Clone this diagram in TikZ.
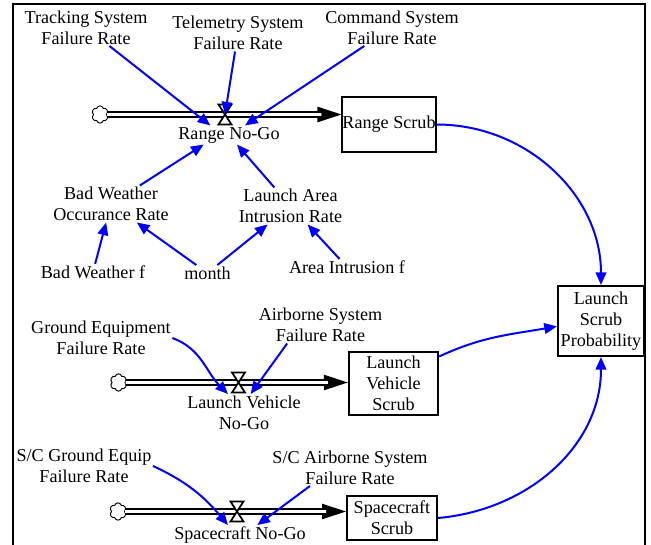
\documentclass[tikz,border=0pt]{standalone}
\usepackage{fontspec}
\setmainfont{Liberation Serif}
\usetikzlibrary{arrows.meta,shapes.symbols}

\begin{document}
\begin{tikzpicture}[x=0.75pt,y=0.75pt,
  every node/.style={font=\fontsize{13.6}{15.75}\selectfont,align=center},
  lbl/.style={inner sep=1pt},
  stock/.style={draw,line width=1.5pt,inner sep=0pt},
  cloudy/.style={cloud,cloud puffs=6,aspect=1,draw,fill=white,line width=0.7pt,minimum width=12.5pt,minimum height=13pt,inner sep=0pt},
  link/.style={blue,line width=1.5pt,-{Triangle[length=9.5pt,width=8pt]}},
  pipe/.style={double,line width=1.5pt,double distance=2.2pt,shorten >=15pt},
  pipetip/.style={line width=1pt,-{Triangle[length=18pt,width=11.5pt]}},
  valve/.style={line width=1.3pt,fill=white,line join=miter}]
\useasboundingbox (0,0) rectangle (651,544);
\draw[line width=1.5pt] (13.3,-10) -- (13.3,539.7) -- (645,539.7) -- (645,-10);

\node[cloudy] (c1) at (100,429.5) {};
\coordinate (v1) at (225,429.5);
\node[lbl] (rng) at (229,409) {Range No-Go};
\node[stock,minimum width=66pt,minimum height=41pt] (rs) at (389,419.5) {Range Scrub};
\node[lbl] (trk) at (86,516.5) {Tracking System\\Failure Rate};
\node[lbl] (tel) at (238,511) {Telemetry System\\Failure Rate};
\node[lbl] (cmd) at (392,516.5) {Command System\\Failure Rate};
\node[lbl] (bwo) at (111,340) {Bad Weather\\Occurance Rate};
\node[lbl] (lai) at (290.5,338) {Launch Area\\Intrusion Rate};
\node[lbl] (bwf) at (93,272) {Bad Weather f};
\node[lbl] (mon) at (207.5,271) {month};
\node[lbl] (aif) at (347,277) {Area Intrusion f};

\node[cloudy] (c2) at (118.5,161.5) {};
\coordinate (v2) at (238.5,161.5);
\node[lbl] (lvn) at (244,131.5) {Launch Vehicle\\No-Go};
\node[stock,minimum width=67pt,minimum height=47pt] (lvs) at (393.5,160.5) {Launch\\Vehicle\\Scrub};
\node[lbl] (gef) at (101,206) {Ground Equipment\\Failure Rate};
\node[lbl] (asf) at (320.5,219) {Airborne System\\Failure Rate};

\node[cloudy] (c3) at (118,32.5) {};
\coordinate (v3) at (237,32.5);
\node[lbl] (scn) at (240,9) {Spacecraft No-Go};
\node[stock,minimum width=67.5pt,minimum height=33pt] (scs) at (392,26) {Spacecraft\\Scrub};
\node[lbl] (sgf) at (84,78) {S/C Ground Equip\\Failure Rate};
\node[lbl] (saf) at (350,76.5) {S/C Airborne System\\Failure Rate};

\node[stock,minimum width=64.5pt,minimum height=52.5pt] (lsp) at (601,223) {Launch\\Scrub\\Probability};

\foreach \c/\s in {c1/rs,c2/lvs,c3/scs}{
  \draw[pipetip] (\c) -- (\s.west |- \c);
  \draw[pipe] (\c) -- (\s.west |- \c);
}
\foreach \v in {v1,v2,v3}
  \draw[valve] ([shift={(-6.5,10)}]\v) -- ++(13,0) -- ++(-13,-20) -- ++(13,0) -- cycle;

\draw[link] (trk) -- ([xshift=-14pt]rng.north);
\draw[link] (tel) -- (v1);
\draw[link] (cmd) -- ([xshift=12pt]rng.north);
\draw[link] (bwo) -- ([xshift=-19pt]rng.south);
\draw[link] (lai) -- ([xshift=6pt]rng.south);
\draw[link] (bwf) -- (bwo);
\draw[link] (mon) -- (bwo);
\draw[link] (mon) -- (lai);
\draw[link] (aif) -- (lai);
\draw[link] (gef.east) to[out=-20,in=135] ([xshift=-12pt]lvn.north);
\draw[link] ([xshift=-25pt]asf.south) -- ([xshift=5pt]lvn.north);
\draw[link] (sgf.east) to[out=-25,in=130] ([xshift=-9pt]scn.north);
\draw[link] ([xshift=-30pt]saf.south) -- ([xshift=13pt]scn.north);
\draw[link] (rs.east) to[out=0,in=90] (lsp.north);
\draw[link] ([yshift=-4pt]lvs.north east) to[out=25,in=190] ([yshift=-4pt]lsp.west);
\draw[link] (scs.east) to[out=5,in=-90] (lsp.south);
\end{tikzpicture}
\end{document}
